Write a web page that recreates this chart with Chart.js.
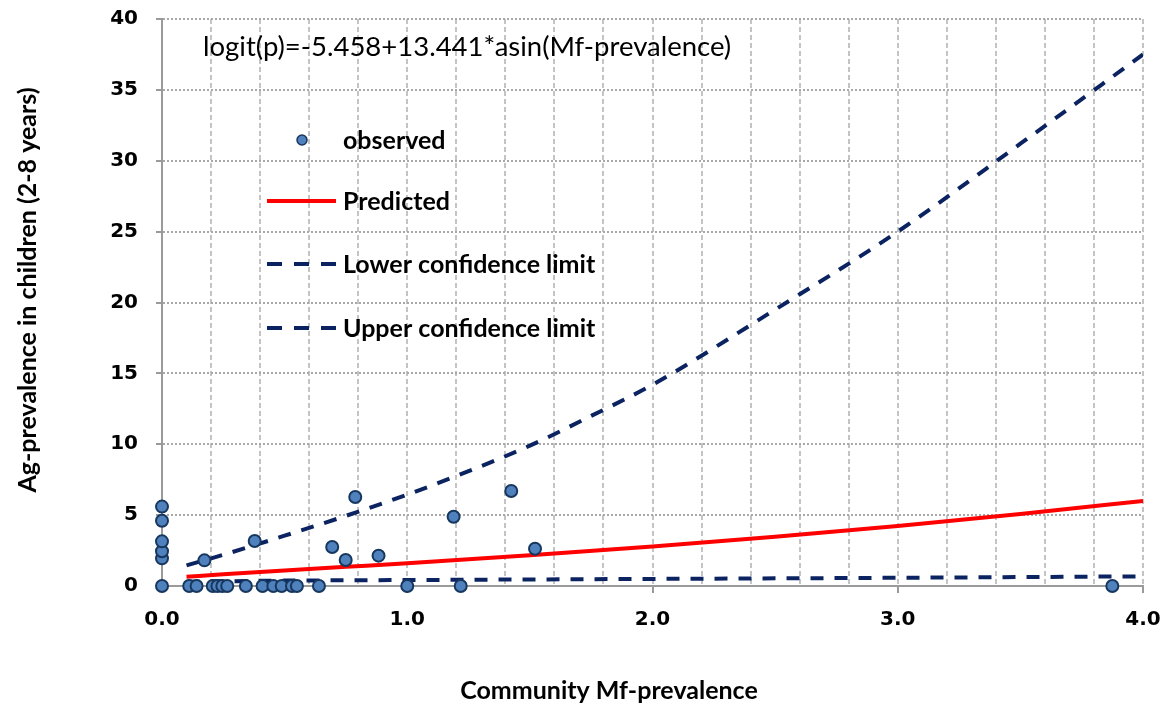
<!DOCTYPE html>
<html><head><meta charset="utf-8">
<script src="https://cdn.jsdelivr.net/npm/chart.js@4.4.0/dist/chart.umd.min.js"></script>
<style>html,body{margin:0;padding:0;background:#fff;}#wrap{width:1164px;height:707px;position:relative;}</style>
</head><body><div id="wrap"><canvas id="c" width="1164" height="707"></canvas></div>
<script>
// observed points
const obsX = [0, 0, 0, 0, 0, 0, 0.111, 0.141, 0.173, 0.207, 0.226, 0.246, 0.266, 0.342, 0.378, 0.41, 0.454, 0.488, 0.53, 0.55, 0.64, 0.694, 0.749, 0.788, 0.883, 1.0, 1.189, 1.218, 1.424, 1.521, 3.875];
const obsY = [0, 1.95, 2.45, 3.15, 4.6, 5.6, 0, 0, 1.81, 0, 0, 0, 0, 0, 3.17, 0, 0, 0, 0, 0, 0, 2.75, 1.83, 6.28, 2.14, 0, 4.89, 0, 6.70, 2.63, 0];
// predicted curve
const predX = [0.1, 0.25, 0.5, 0.75, 1.0, 1.5, 2.0, 2.5, 3.0, 3.5, 4.0];
const predY = [0.65, 0.83, 1.09, 1.35, 1.61, 2.17, 2.79, 3.48, 4.24, 5.08, 6.0];
// lower confidence limit
const loX = [0.1, 0.5, 1.0, 1.5, 2.0, 2.5, 3.0, 3.5, 4.0];
const loY = [0.3, 0.38, 0.42, 0.46, 0.5, 0.54, 0.58, 0.63, 0.68];
// upper confidence limit
const upX = [0.1, 0.25, 0.5, 0.75, 1.0, 1.25, 1.5, 1.75, 2.0, 2.5, 3.0, 3.5, 4.0];
const upY = [1.45, 2.2, 3.55, 4.95, 6.45, 8.1, 9.9, 12.0, 14.2, 19.5, 25.0, 31.2, 37.5];

const seriesNames = ['observed', 'Predicted', 'Lower confidence limit', 'Upper confidence limit'];
const equationText = 'logit(p)=-5.458+13.441*asin(Mf-prevalence)';
const xTitle = 'Community Mf-prevalence';
const yTitle = 'Ag-prevalence in children (2-8 years)';

const NAVY = '#0B2461';
const RED = '#FF0000';
const PFILL = '#4F81BD';
const PEDGE = '#17375E';

const zip = (xs, ys) => xs.map((x, i) => ({x: x, y: ys[i]}));
const isMajor = v => Math.abs(v - Math.round(v)) < 1e-6;

const decor = {
  id: 'decor',
  afterDraw(chart) {
    const ctx = chart.ctx;
    ctx.save();
    // equation
    ctx.fillStyle = '#000';
    ctx.textBaseline = 'alphabetic';
    ctx.textAlign = 'left';
    ctx.font = '27.5px Lato';
    ctx.fillText(equationText, 203, 56);
    // legend
    const lx0 = 267, lx1 = 336, tx = 343;
    const rows = [140, 201, 264, 328];
    ctx.font = 'bold 25px Lato';
    ctx.textBaseline = 'middle';
    rows.forEach((ry, i) => {
      if (i === 0) {
        ctx.beginPath();
        ctx.arc(302, ry, 5, 0, Math.PI * 2);
        ctx.fillStyle = PFILL; ctx.fill();
        ctx.lineWidth = 1.5; ctx.strokeStyle = PEDGE; ctx.stroke();
      } else {
        ctx.beginPath();
        ctx.moveTo(lx0, ry); ctx.lineTo(lx1, ry);
        ctx.lineWidth = 4;
        ctx.strokeStyle = i === 1 ? RED : NAVY;
        ctx.setLineDash(i === 1 ? [] : [15, 12]);
        ctx.stroke();
        ctx.setLineDash([]);
      }
      ctx.fillStyle = '#000';
      ctx.fillText(seriesNames[i], tx, ry + 1);
    });
    // x axis title
    ctx.font = 'bold 25px Lato';
    ctx.textAlign = 'center';
    ctx.textBaseline = 'alphabetic';
    ctx.fillText(xTitle, 609, 699);
    // y axis title
    ctx.translate(28, 290);
    ctx.rotate(-Math.PI / 2);
    ctx.textBaseline = 'middle';
    ctx.fillText(yTitle, 0, 0);
    ctx.restore();
  }
};

new Chart(document.getElementById('c'), {
  type: 'scatter',
  data: {
    datasets: [
      {label: seriesNames[0], data: zip(obsX, obsY), clip: false, pointRadius: 6, pointBackgroundColor: PFILL, pointBorderColor: PEDGE, pointBorderWidth: 2, showLine: false},
      {label: seriesNames[1], data: zip(predX, predY), showLine: true, borderColor: RED, borderWidth: 4, pointRadius: 0, cubicInterpolationMode: 'monotone'},
      {label: seriesNames[2], data: zip(loX, loY), showLine: true, borderColor: NAVY, borderWidth: 4, borderDash: [13, 11], pointRadius: 0, cubicInterpolationMode: 'monotone'},
      {label: seriesNames[3], data: zip(upX, upY), showLine: true, borderColor: NAVY, borderWidth: 4, borderDash: [13, 11], pointRadius: 0, cubicInterpolationMode: 'monotone'}
    ]
  },
  options: {
    responsive: false,
    animation: false,
    events: [],
    layout: {padding: {top: 19, right: 21, left: 0, bottom: 0}},
    plugins: {legend: {display: false}, tooltip: {enabled: false}},
    scales: {
      x: {
        type: 'linear', min: 0, max: 4,
        ticks: {stepSize: 0.2, autoSkip: false, maxRotation: 0, color: '#000', padding: 15,
          font: {family: 'DejaVu Sans', weight: 'bold', size: 20},
          callback: v => isMajor(v) ? Number(v).toFixed(1) : ''},
        grid: {color: c => (c.tick && Math.abs(c.tick.value) < 1e-6) ? 'rgba(0,0,0,0)' : '#c4c4c4', lineWidth: 2, tickLength: 7, tickWidth: 2,
          tickColor: c => (c.tick && isMajor(c.tick.value)) ? '#9a9a9a' : 'rgba(0,0,0,0)'},
        border: {color: '#9a9a9a', width: 2, dash: [5, 3]},
        afterFit: s => { s.height = 121; s.paddingLeft = 0; s.paddingRight = 0; }
      },
      y: {
        min: 0, max: 40,
        ticks: {stepSize: 5, color: '#000', padding: 18, font: {family: 'DejaVu Sans', weight: 'bold', size: 20}},
        grid: {color: c => (c.tick && c.tick.value === 0) ? 'rgba(0,0,0,0)' : '#a8a8a8', lineWidth: 2, tickLength: 6, tickWidth: 2, tickColor: '#9a9a9a'},
        border: {color: '#9a9a9a', width: 2, dash: [2, 2]},
        afterFit: s => { s.width = 162; s.paddingTop = 0; s.paddingBottom = 0; }
      }
    }
  },
  plugins: [decor]
});
</script></body></html>
